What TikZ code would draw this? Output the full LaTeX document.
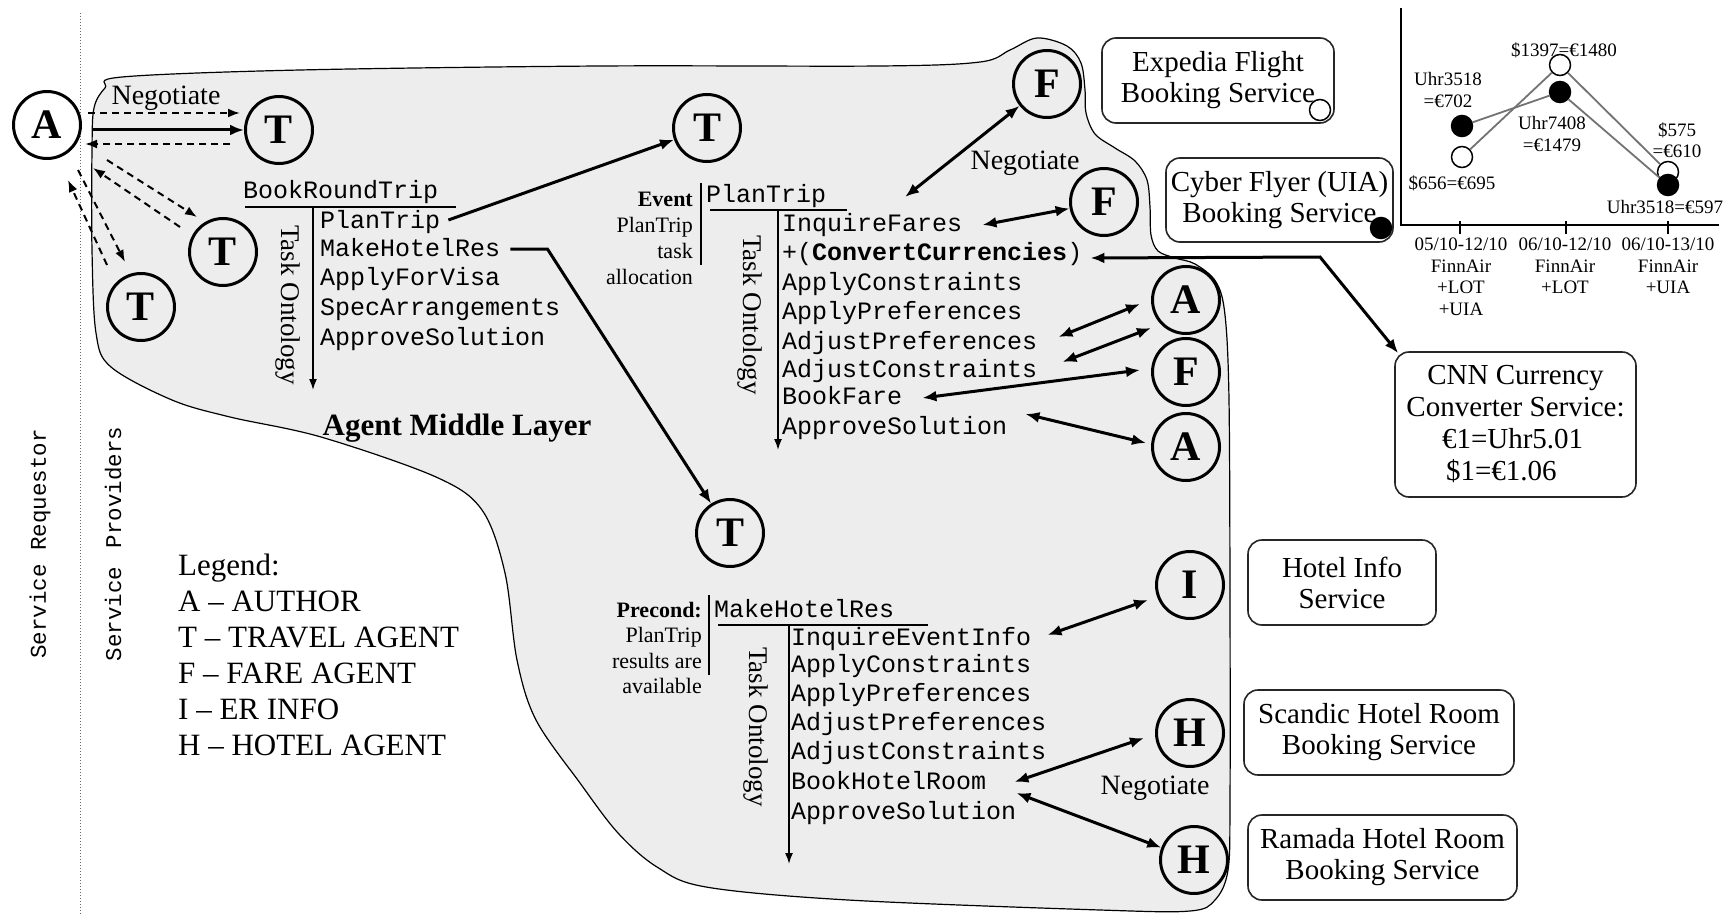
\documentclass[tikz,border=0pt]{standalone}
\usepackage{fontspec}
\setmainfont{Liberation Serif}
\setmonofont{Liberation Mono}
\usetikzlibrary{arrows.meta,calc}
\begin{document}
\begin{tikzpicture}[x=1pt,y=-1pt,
 agent/.style={circle,draw,line width=3pt,minimum size=67pt,inner sep=0pt,font=\fontsize{42}{42}\selectfont\bfseries},
 svc/.style={draw=black!85,line width=1.6pt,rounded corners=14pt,inner sep=0pt,align=center,font=\fontsize{29}{31}\selectfont},
 mitem/.style={anchor=west,inner sep=0pt,text height=19pt,text depth=5pt,font=\fontsize{25}{25}\selectfont\ttfamily},
 onto/.style={rotate=-90,inner sep=0pt,font=\fontsize{27}{27}\selectfont},
 axisarrow/.style={line width=1.6pt,-{Latex[length=11pt,width=8pt]}},
 uline/.style={line width=1.6pt},
 conn/.style={line width=3pt,-{Latex[length=14pt,width=11pt]}},
 dconn/.style={line width=3pt,{Latex[length=14pt,width=11pt]}-{Latex[length=14pt,width=11pt]}},
 dashconn/.style={line width=2pt,dash pattern=on 7pt off 5pt,-{Latex[length=12pt,width=9pt]}},
 negot/.style={font=\fontsize{28}{28}\selectfont,inner sep=0pt},
 side/.style={font=\fontsize{22}{26}\selectfont,inner sep=0pt,align=right,anchor=north east},
 clab/.style={font=\fontsize{19}{21.5}\selectfont,inner sep=0pt,align=center},
 dotw/.style={circle,draw,line width=1.5pt,fill=white,minimum size=21pt,inner sep=0pt},
 dotb/.style={circle,draw,line width=1.5pt,fill=black,minimum size=21pt,inner sep=0pt},
 chartline/.style={line width=1.8pt,draw=black!55},
 sidetext/.style={rotate=90,inner sep=0pt,font=\fontsize{22.5}{22.5}\selectfont\ttfamily}
]
\useasboundingbox (0,0) rectangle (1734,920);
\fill[white] (0,0) rectangle (1734,920);

% agent middle layer blob
\path[fill=black!7,draw=black,line width=1.2pt] plot[smooth cycle,tension=0.55] coordinates {
 (92,150) (94,108) (105,88) (122,77) (300,70) (600,66) (880,66) (980,62) (1010,50) (1037,38)
 (1067,46) (1081,63) (1085,90) (1086,113) (1095,134) (1115,148) (1135,161) (1147,180)
 (1150,207) (1151,235) (1158,251) (1175,258) (1195,264) (1216,282) (1225,315) (1229,400)
 (1230,600) (1230,800) (1228,870) (1215,900) (1190,911) (1100,910) (848,900) (706,887)
 (657,867) (618,833) (580,783) (536,720) (517,660) (505,573) (482,510) (436,477) (321,437)
 (230,417) (172,400) (111,367) (96,333) (92,250)};

% separator
\draw[black!60,dotted,line width=1pt] (80,13) -- (80,915);
\node[sidetext] (sreq) at (40,544) {Service Requestor};
\node[sidetext] (sprov) at (113,544) {Service\hspace{5pt} Providers};

% agents
\node[agent] (A0) at (47,125) {A};
\node[agent] (T1) at (279,130) {T};
\node[agent] (T2) at (223,252) {T};
\node[agent] (T3) at (141,307) {T};
\node[agent] (T4) at (707,128) {T};
\node[agent] (T5) at (730,533) {T};
\node[agent] (F1) at (1047,84) {F};
\node[agent] (F2) at (1104,202) {F};
\node[agent] (A1) at (1186,300) {A};
\node[agent] (F3) at (1186,372) {F};
\node[agent] (A2) at (1186,447) {A};
\node[agent] (I) at (1190,585) {I};
\node[agent] (H1) at (1190,733) {H};
\node[agent] (H2) at (1194,860) {H};

% negotiate labels
\node[negot] (neg1) at (166,98) {Negotiate};
\node[negot] (neg2) at (1025,163) {Negotiate};
\node[negot] (neg3) at (1155,788) {Negotiate};

% list 1
\node[mitem] (t1) at (243,192) {BookRoundTrip};
\draw[uline] (245,207) -- (456,207);
\draw[axisarrow] (313,207) -- (313,390);
\node[onto] (o1) at (288,305) {Task Ontology};
\node[mitem] (l1p) at (320,221) {PlanTrip};
\node[mitem] (l1m) at (320,249) {MakeHotelRes};
\node[mitem] (l1v) at (320,278) {ApplyForVisa};
\node[mitem] (l1s) at (320,308) {SpecArrangements};
\node[mitem] (l1a) at (320,338) {ApproveSolution};

% list 2
\node[side] (ev) at (693,192) {\textbf{Event}\\PlanTrip\\task\\allocation};
\draw[line width=1.5pt] (701,183) -- (701,265);
\node[mitem] (t2) at (706,196) {PlanTrip};
\draw[uline] (710,210) -- (847,210);
\draw[axisarrow] (778,210) -- (778,450);
\node[onto] (o2) at (750,315) {Task Ontology};
\node[mitem] (l2a) at (782,224) {InquireFares};
\node[mitem] (l2b) at (782,253) {+(\textbf{ConvertCurrencies})};
\node[mitem] (l2c) at (782,283) {ApplyConstraints};
\node[mitem] (l2d) at (782,312) {ApplyPreferences};
\node[mitem] (l2e) at (782,342) {AdjustPreferences};
\node[mitem] (l2f) at (782,370) {AdjustConstraints};
\node[mitem] (l2g) at (782,397) {BookFare};
\node[mitem] (l2h) at (782,427) {ApproveSolution};

% list 3
\node[side,font=\fontsize{22}{25.5}\selectfont] (pre) at (702,602) {\textbf{Precond:}\\PlanTrip\\results are\\available};
\draw[line width=1.5pt] (709,595) -- (709,675);
\node[mitem] (t3) at (714,610) {MakeHotelRes};
\draw[uline] (718,625) -- (928,625);
\draw[axisarrow] (789,625) -- (789,864);
\node[onto] (o3) at (756,727) {Task Ontology};
\node[mitem] (l3a) at (791,638) {InquireEventInfo};
\node[mitem] (l3b) at (791,665) {ApplyConstraints};
\node[mitem] (l3c) at (791,694) {ApplyPreferences};
\node[mitem] (l3d) at (791,723) {AdjustPreferences};
\node[mitem] (l3e) at (791,752) {AdjustConstraints};
\node[mitem] (l3f) at (791,782) {BookHotelRoom};
\node[mitem] (l3g) at (791,812) {ApproveSolution};

\node[font=\fontsize{31}{31}\selectfont\bfseries,inner sep=0pt] (aml) at (457,428) {Agent Middle Layer};

% legend
\node[anchor=north west,align=left,inner sep=0pt,font=\fontsize{31}{36}\selectfont] (legend) at (178,554)
 {Legend:\\A -- AUTHOR\\T -- TRAVEL AGENT\\F -- FARE AGENT\\I -- ER INFO\\H -- HOTEL AGENT};

% services
\node[svc,minimum width=232pt,minimum height=85pt] (exp) at (1218,80.5) {Expedia Flight\\Booking Service};
\node[svc,minimum width=227pt,minimum height=84pt] (cyb) at (1279.5,200) {Cyber Flyer (UIA)\\Booking Service};
\node[svc,minimum width=241pt,minimum height=145pt,font=\fontsize{29}{32}\selectfont] (cnn) at (1515.5,424.5)
 {CNN Currency\\Converter Service:\\\makebox[219pt][l]{\hspace{36pt}€1=Uhr5.01}\\\makebox[219pt][l]{\hspace{40pt}\$1=€1.06}};
\node[svc,minimum width=188pt,minimum height=85pt] (hinfo) at (1342,582.5) {Hotel Info\\Service};
\node[svc,minimum width=270pt,minimum height=85pt] (scan) at (1379,732.5) {Scandic Hotel Room\\Booking Service};
\node[svc,minimum width=269pt,minimum height=85pt] (ram) at (1382.5,857.5) {Ramada Hotel Room\\Booking Service};
\node[dotw] (expdot) at (1320,110) {};
\node[dotb] (cybdot) at (1381,228) {};

% chart
\draw[line width=1.5pt] (1401,8) -- (1401,225) -- (1719,225);
\foreach \x in {1460,1566,1668} \draw[line width=1.5pt] (\x,221) -- (\x,234);
\node[dotw] (d1) at (1462,157) {};
\node[dotw] (d2) at (1560,65) {};
\node[dotw] (d3) at (1668,172) {};
\node[dotb] (u1) at (1462,126) {};
\node[dotb] (u2) at (1560,92) {};
\node[dotb] (u3) at (1668,185) {};
\draw[chartline] (d1) -- (d2) -- (d3);
\draw[chartline] (u1) -- (u2) -- (u3);
\node[clab] (lb1) at (1448,90) {Uhr3518\\=€702};
\node[clab] (lb2) at (1564,50) {\$1397=€1480};
\node[clab] (lb3) at (1552,134) {Uhr7408\\=€1479};
\node[clab] (lb4) at (1452,183) {\$656=€695};
\node[clab] (lb5) at (1677,140) {\$575\\=€610};
\node[clab] (lb6) at (1665,207) {Uhr3518=€597};
\node[clab,anchor=north] (x1) at (1461,238) {05/10-12/10\\FinnAir\\+LOT\\+UIA};
\node[clab,anchor=north] (x2) at (1565,238) {06/10-12/10\\FinnAir\\+LOT};
\node[clab,anchor=north] (x3) at (1668,238) {06/10-13/10\\FinnAir\\+UIA};

% connectors A - T
\draw[dashconn] ($(A0.east)+(6,-12)$) -- ($(T1.west)+(-4,-17)$);
\draw[conn] ($(A0.east)+(10,5)$) -- (T1.west);
\draw[dashconn] ($(T1.west)+(-14,14)$) -- ($(A0.east)+(3,19)$);
\coordinate (q1) at (107,160); \coordinate (q2) at (197,217);
\coordinate (q3) at (180,227); \coordinate (q4) at (93,168);
\coordinate (q5) at (78,170); \coordinate (q6) at (125,262);
\coordinate (q7) at (107,265); \coordinate (q8) at (68,180);
\draw[dashconn] (q1) -- (q2);
\draw[dashconn] (q3) -- (q4);
\draw[dashconn] (q5) -- (q6);
\draw[dashconn] (q7) -- (q8);

% task connectors
\draw[conn] ($(l1p.east)+(8,-1)$) -- (T4);
\draw[conn] ($(l1m.east)+(10,0)$) -- ++(37,0) -- (T5);

% fare connectors
\coordinate (f1s) at (905,197);
\draw[dconn] (f1s) -- (F1);
\draw[dconn] ($(l2a.east)+(20,1)$) -- (F2);
\coordinate (cnnbend) at (1320,257);
\draw[dconn] ($(l2b.east)+(8,5)$) -- (cnnbend) -- ($(cnn.north west)+(4,2)$);
\coordinate (a1p) at (1140,304);
\coordinate (a1q) at (1151,328);
\coordinate (f3p) at (1140,370);
\coordinate (a2p) at (1146,443);
\draw[dconn] ($(l2e.east)+(21,-5)$) -- (a1p);
\draw[dconn] ($(l2f.east)+(25,-8)$) -- (a1q);
\draw[dconn] ($(l2g.east)+(20,1)$) -- (f3p);
\draw[dconn] ($(l2h.east)+(18,-13)$) -- (a2p);

% hotel connectors
\coordinate (ip) at (1148,600);
\coordinate (h1p) at (1144,738);
\draw[dconn] ($(l3a.east)+(16,-3)$) -- (ip);
\draw[dconn] ($(l3f.east)+(28,0)$) -- (h1p);
\draw[dconn] ($(l3f.east)+(30,11)$) -- (H2);
\end{tikzpicture}
\end{document}
